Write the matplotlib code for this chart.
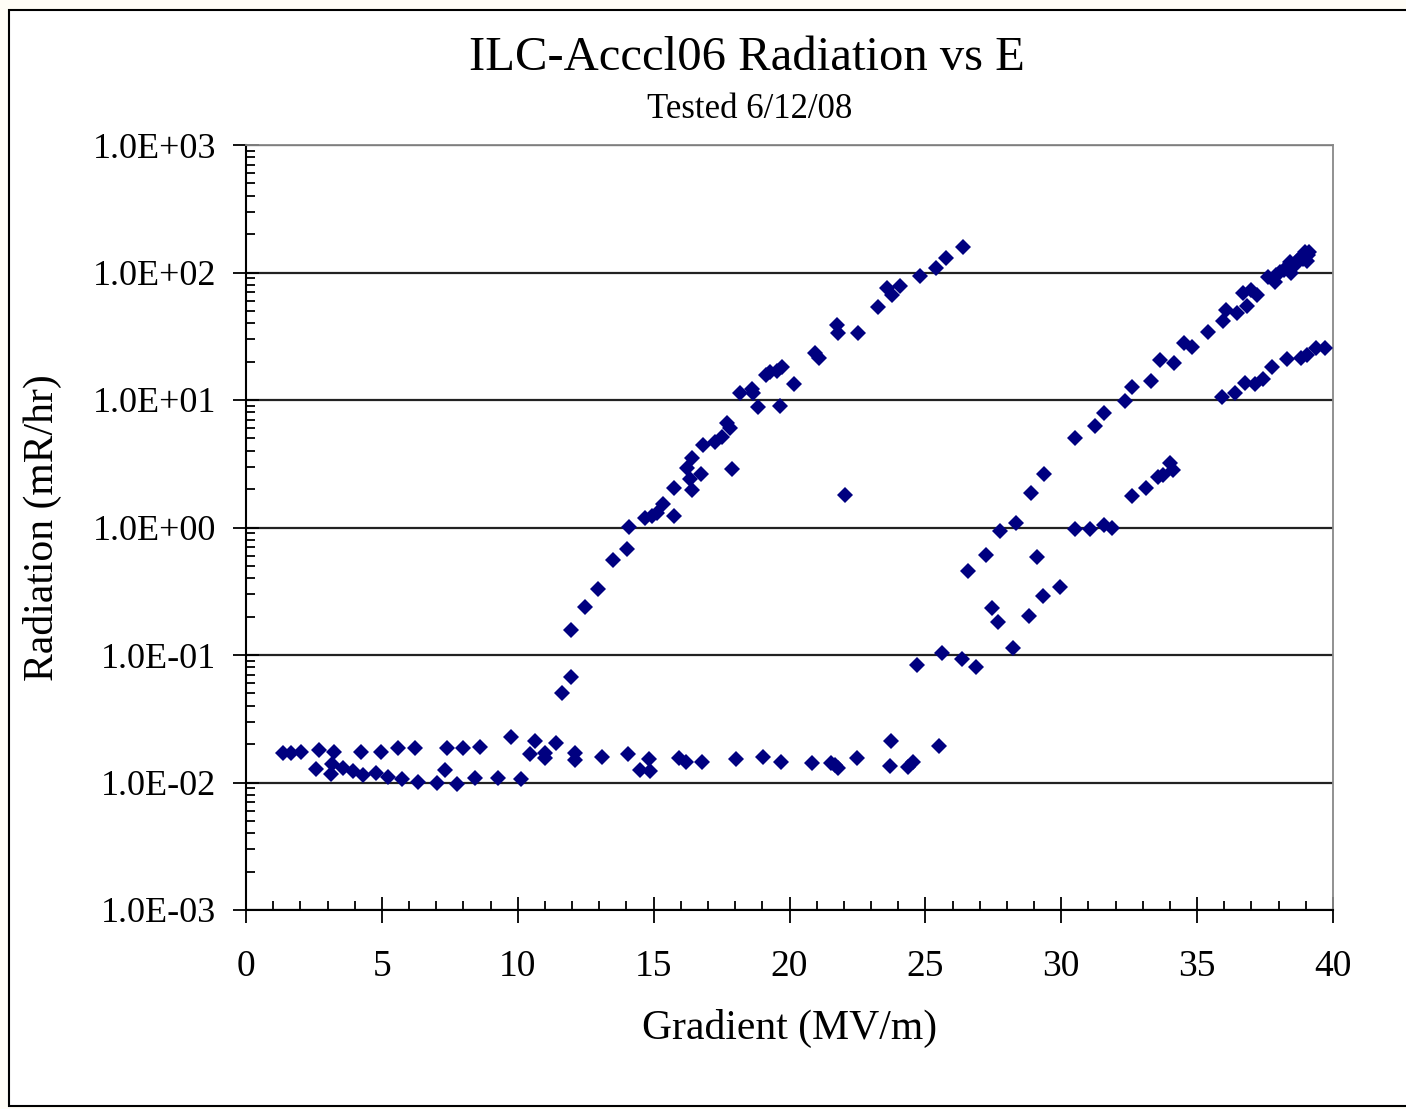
"""ILC-Accel06 radiation vs gradient, Excel-style log scatter."""

import numpy as np
import matplotlib
matplotlib.use("Agg")
import matplotlib.pyplot as plt
from matplotlib.patches import Rectangle
from matplotlib.ticker import FixedLocator, FuncFormatter, LogLocator, MultipleLocator

# baseline (below field-emission onset)
base_e = [1.35, 1.66, 2.02, 2.67, 3.24, 4.23, 4.97, 5.58, 6.22, 7.40, 8.00, 8.61,
          9.75, 10.64, 10.45, 11.00, 11.01, 11.41, 12.12, 12.12,
          2.58, 3.16, 3.13, 3.56, 3.95, 4.32, 4.78, 5.21, 5.73, 6.32, 7.03, 7.75,
          7.33, 8.44, 9.26, 10.12,
          13.11, 14.04, 14.83, 14.50, 14.86, 15.93, 16.19, 16.79, 18.02, 19.01,
          19.68, 20.81, 21.51, 21.77, 21.67, 22.47, 23.72, 23.69, 24.37, 24.55, 25.50]
base_r = [0.0171, 0.0171, 0.0175, 0.0180, 0.0175, 0.0175, 0.0175, 0.0185, 0.0185,
          0.0185, 0.0185, 0.0191, 0.0228, 0.0210, 0.0166, 0.0169, 0.0155, 0.0203,
          0.0169, 0.0150,
          0.0128, 0.0140, 0.0117, 0.0129, 0.0122, 0.0115, 0.0118, 0.0111, 0.0106,
          0.0101, 0.0100, 0.0097, 0.0125, 0.0108, 0.0108, 0.0106,
          0.0159, 0.0168, 0.0153, 0.0125, 0.0124, 0.0155, 0.0144, 0.0144, 0.0153,
          0.0159, 0.0144, 0.0142, 0.0142, 0.0129, 0.0137, 0.0155, 0.0210, 0.0135,
          0.0133, 0.0146, 0.0194]

# first rise (onset ~11.5 MV/m)
rise1_e = [11.62, 11.96, 11.96, 12.47, 12.96, 13.51, 14.01, 14.10, 14.68, 14.93,
           15.11, 15.33, 15.75, 15.75, 16.42, 16.34, 16.21, 16.42, 16.74, 16.82,
           17.26, 17.50, 17.69, 17.81, 17.87, 18.18, 18.61, 18.66, 18.83, 19.12,
           19.28, 19.53, 19.71, 19.65, 20.16, 20.92, 21.10, 21.73, 21.79, 22.53,
           22.06, 23.24, 23.59, 23.76, 24.06, 24.80, 25.38, 25.75, 26.39]
rise1_r = [0.050, 0.067, 0.157, 0.237, 0.327, 0.556, 0.675, 1.01, 1.18, 1.22,
           1.31, 1.53, 1.23, 2.03, 1.97, 2.39, 2.91, 3.53, 2.63, 4.44,
           4.71, 5.10, 6.56, 6.00, 2.86, 11.3, 12.1, 11.3, 8.77, 15.7,
           16.7, 17.0, 18.2, 8.97, 13.3, 23.2, 21.2, 38.8, 33.7, 33.7,
           1.80, 53.3, 75.2, 66.6, 78.4, 93.9, 108, 129, 159]

# second rise (onset ~24.5 MV/m)
rise2_e = [24.68, 25.62, 26.35, 26.88, 26.57, 27.23, 27.74, 28.32, 28.87, 29.37,
           30.50, 31.26, 31.57, 32.34, 32.62, 33.30, 33.63, 34.15, 34.51, 34.82,
           35.40, 35.96, 36.08, 36.45, 36.82, 36.69, 37.00, 37.19, 37.61, 37.86,
           38.04, 38.29, 38.47, 38.66, 38.84, 38.96, 39.08, 39.03, 37.90, 38.20,
           38.40, 38.60, 38.90, 39.10]
rise2_r = [0.0835, 0.104, 0.0931, 0.0809, 0.458, 0.608, 0.939, 1.09, 1.87, 2.61,
           5.01, 6.25, 7.95, 9.88, 12.7, 14.1, 20.6, 19.4, 27.8, 26.2,
           34.3, 41.9, 50.8, 47.9, 54.6, 69.5, 72.9, 66.6, 92.7, 84.7,
           101, 111, 98.6, 122, 133, 146, 137, 122, 95, 105,
           120, 115, 128, 145]

# lower branch of the second rise
rise3_e = [27.44, 27.66, 28.23, 28.81, 29.11, 29.33, 29.95, 30.50, 31.05, 31.58,
           31.85, 32.59, 33.11, 33.56, 33.75, 34.00, 34.12,
           35.93, 36.39, 36.75, 37.12, 37.43, 37.74, 38.29, 38.84, 39.03, 39.39, 39.70]
rise3_r = [0.232, 0.182, 0.114, 0.202, 0.590, 0.290, 0.343, 0.973, 0.98, 1.05,
           1.00, 1.78, 2.05, 2.50, 2.58, 3.19, 2.83,
           10.6, 11.3, 13.7, 13.3, 14.5, 18.2, 20.8, 21.2, 22.5, 25.4, 25.4]

plt.rcParams["font.family"] = ["Liberation Serif", "DejaVu Serif"]

fig = plt.figure(figsize=(14.06, 11.09), dpi=100)
fig.patch.set_facecolor("#fffdf6")
frame = Rectangle((9 / 1406, 0.003), 1.0, 1 - 0.003 - 10 / 1109,
                  transform=fig.transFigure, facecolor="white",
                  edgecolor="black", linewidth=1.5, zorder=-5)
fig.patches.append(frame)

ax = fig.add_axes([246 / 1406, 1 - 910 / 1109, (1333 - 246) / 1406, (910 - 145) / 1109])
ax.set_zorder(2)
ax.patch.set_alpha(0)

gradient = np.concatenate([base_e, rise1_e, rise2_e, rise3_e])
radiation = np.concatenate([base_r, rise1_r, rise2_r, rise3_r])
ax.plot(gradient, radiation, linestyle="none", marker="D", markersize=8.5,
        color="#000080", markeredgewidth=0, zorder=3, clip_on=False)

ax.set_yscale("log")
ax.set_ylim(1e-3, 1e3)
ax.set_xlim(0, 40)

ax.yaxis.set_major_locator(FixedLocator([10.0 ** k for k in range(-3, 4)]))
ax.yaxis.set_minor_locator(LogLocator(base=10, subs=np.arange(2, 10), numticks=20))
ax.yaxis.set_major_formatter(FuncFormatter(lambda v, _: f"{v:.1E}"))
ax.yaxis.set_minor_formatter(FuncFormatter(lambda v, _: ""))
ax.xaxis.set_major_locator(MultipleLocator(5))
ax.xaxis.set_minor_locator(MultipleLocator(1))

ax.tick_params(axis="both", which="major", direction="inout", length=19,
               width=1.3, color="black")
ax.tick_params(axis="both", which="minor", direction="in", length=6.5,
               width=1.3, color="black")
ax.tick_params(axis="y", which="major", pad=12, labelsize=26)
ax.tick_params(axis="x", which="major", pad=19, labelsize=27)

ax.grid(axis="y", which="major", color="#222", linewidth=1.6)
ax.set_axisbelow(True)

for side in ("top", "right"):
    ax.spines[side].set_color("#888")
    ax.spines[side].set_linewidth(1.3)
for side in ("left", "bottom"):
    ax.spines[side].set_color("black")
    ax.spines[side].set_linewidth(1.5)

ax.set_xlabel("Gradient (MV/m)", fontsize=30, labelpad=18)
ax.set_ylabel("Radiation (mR/hr)", fontsize=30, labelpad=22)

fig.text(747 / 1406, 1 - 58 / 1109, "ILC-Acccl06 Radiation vs E",
         ha="center", va="center", fontsize=35)
fig.text(750 / 1406, 1 - 110 / 1109, "Tested 6/12/08",
         ha="center", va="center", fontsize=25)

fig.savefig("out.png", dpi=100, facecolor=fig.get_facecolor())
